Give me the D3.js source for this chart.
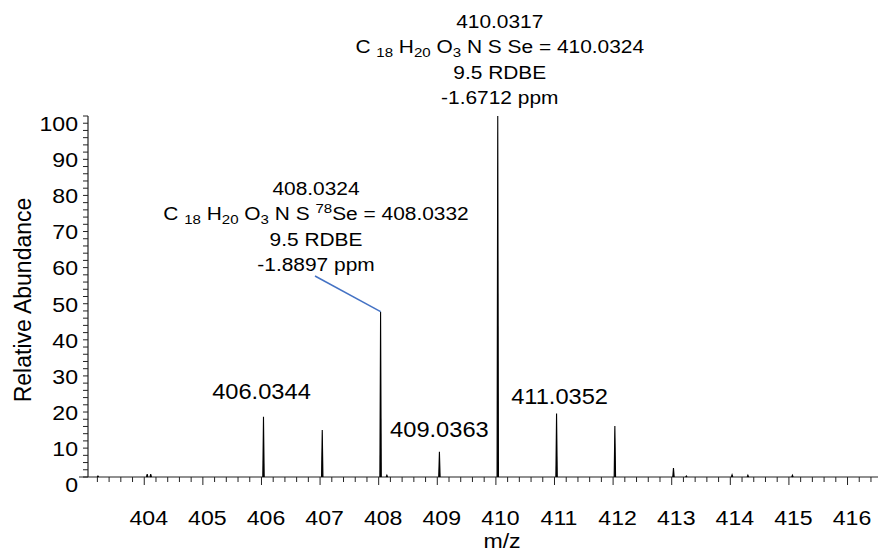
<!DOCTYPE html>
<html><head><meta charset="utf-8">
<script src="https://cdn.jsdelivr.net/npm/d3@7"></script>
<style>
body{margin:0;background:#fff;}
text{font-family:"Liberation Sans",Arial,Helvetica,sans-serif;fill:#000;}
</style>
</head><body>
<svg id="chart" width="878" height="553"></svg>
<script>
// ---------------- data ----------------
const peakMz        = [403.21, 404.05, 404.11, 406.0344, 407.037, 408.0324, 408.14, 409.0363, 410.0317, 411.0352, 412.030, 413.03, 413.25, 414.03, 414.30, 415.06];
const peakAbundance = [0.3,    0.8,    0.8,    16.7,     13.0,    45.8,     0.5,    7.0,      100,      17.6,     14.1,    2.5,    0.3,    0.6,    0.5,    0.5];
const simpleLabels  = ["406.0344", "409.0363", "411.0352"];
const simpleLabelMz = [406.0344, 409.0363, 411.0352];
const xTickValues   = [404, 405, 406, 407, 408, 409, 410, 411, 412, 413, 414, 415, 416];
const yTickValues   = [0, 10, 20, 30, 40, 50, 60, 70, 80, 90, 100];
const xTitle = "m/z";
const yTitle = "Relative Abundance";
// annotation for 410 peak: lines made of [text, kind] segments
const ann410 = [
  [["410.0317","n"]],
  [["C ","n"],["18","sub"],[" H","n"],["20","sub"],[" O","n"],["3","sub"],[" N S Se = 410.0324","n"]],
  [["9.5 RDBE","n"]],
  [["-1.6712 ppm","n"]]
];
const ann408 = [
  [["408.0324","n"]],
  [["C ","n"],["18","sub"],[" H","n"],["20","sub"],[" O","n"],["3","sub"],[" N S ","n"],["78","sup"],["Se = 408.0332","n"]],
  [["9.5 RDBE","n"]],
  [["-1.8897 ppm","n"]]
];

// ---------------- layout ----------------
const W = 878, H = 553;
const SX = 1.1; // horizontal text stretch of the original rendering
const svg = d3.select("#chart");
const x = d3.scaleLinear().domain([403.04, 416.52]).range([88, 878]);
const y = d3.scaleLinear().domain([0, 100]).range([477, 116]);

function stretchedText(g, px, py, str, size, anchor) {
  return g.append("text")
    .attr("transform", `translate(${px},${py}) scale(${SX},1)`)
    .attr("text-anchor", anchor || "middle")
    .style("font-size", size + "px")
    .text(str);
}

// ---------------- axes ----------------
const axisColor = "#222";
const xMinor = d3.range(403.2, 416.5, 0.2).filter(v => Math.abs(v - Math.round(v)) > 0.01);
const gx = svg.append("g");
gx.selectAll("line.minor").data(xMinor).join("line")
  .attr("x1", d => x(d)).attr("x2", d => x(d))
  .attr("y1", y(0)).attr("y2", y(0) + 5)
  .attr("stroke", axisColor).attr("stroke-width", 1);
gx.selectAll("line.major").data(xTickValues).join("line")
  .attr("x1", d => x(d)).attr("x2", d => x(d))
  .attr("y1", y(0)).attr("y2", y(0) + 8)
  .attr("stroke", axisColor).attr("stroke-width", 1);
gx.append("line").attr("x1", 79).attr("x2", W).attr("y1", y(0)).attr("y2", y(0))
  .attr("stroke", axisColor).attr("stroke-width", 1.2);
xTickValues.forEach(v => stretchedText(gx, x(v) + 4.5, 525, String(v), 21, "middle"));
stretchedText(gx, 502, 548, xTitle, 21, "middle");

// y axis
const gy = svg.append("g");
const yMinor = d3.range(0, 100.1, 2);
gy.selectAll("line.tick").data(yMinor).join("line")
  .attr("x1", 83).attr("x2", 88)
  .attr("y1", d => y(d)).attr("y2", d => y(d))
  .attr("stroke", axisColor).attr("stroke-width", 1);
gy.append("line").attr("x1", 88).attr("x2", 88).attr("y1", y(100)).attr("y2", y(0))
  .attr("stroke", axisColor).attr("stroke-width", 1.2);
yTickValues.forEach(v => stretchedText(gy, 78, y(v) + 15, String(v), 21, "end"));
gy.append("text")
  .attr("transform", "translate(31,300) rotate(-90)")
  .attr("text-anchor", "middle")
  .style("font-size", "23px")
  .text(yTitle);

// ---------------- peaks ----------------
const peaks = peakMz.map((m, i) => ({ mz: m, ab: peakAbundance[i] }));
svg.append("g").selectAll("path").data(peaks).join("path")
  .attr("d", d => `M${x(d.mz - 0.012)},${y(0)}L${x(d.mz)},${y(d.ab)}L${x(d.mz + 0.012)},${y(0)}`)
  .attr("fill", "#000").attr("stroke", "#000").attr("stroke-width", 1.1);

// ---------------- labels ----------------
const gl = svg.append("g");
const labelOffsets = [[-2, -18], [0, -15], [3, -9]];
simpleLabels.forEach((s, i) => {
  const m = simpleLabelMz[i];
  const ab = peakAbundance[peakMz.indexOf(m)];
  stretchedText(gl, x(m) + labelOffsets[i][0], y(ab) + labelOffsets[i][1], s, 21.5, "middle");
});

function block(cx, firstBaseline, lines, size, lineH) {
  lines.forEach((segs, i) => {
    const t = gl.append("text")
      .attr("transform", `translate(${cx},${firstBaseline + i * lineH}) scale(${SX},1)`)
      .attr("text-anchor", "middle")
      .style("font-size", size + "px");
    let cur = 0;
    segs.forEach(([str, kind]) => {
      const ts = t.append("tspan").text(str);
      const target = kind === "sub" ? 4 : kind === "sup" ? -7 : 0;
      if (kind !== "n") ts.style("font-size", (size * 0.72) + "px");
      ts.attr("dy", target - cur);
      cur = target;
    });
  });
}
block(x(410.0317) + 2, 27.5, ann410, 19, 25.5);
block(316, 194.5, ann408, 19, 25.5);

// leader line for 408 label
const i408 = peakMz.indexOf(408.0324);
gl.append("line")
  .attr("x1", 315).attr("y1", 276)
  .attr("x2", x(408.0324)).attr("y2", y(peakAbundance[i408]))
  .attr("stroke", "#4472C4").attr("stroke-width", 1.5);
</script>
</body></html>
